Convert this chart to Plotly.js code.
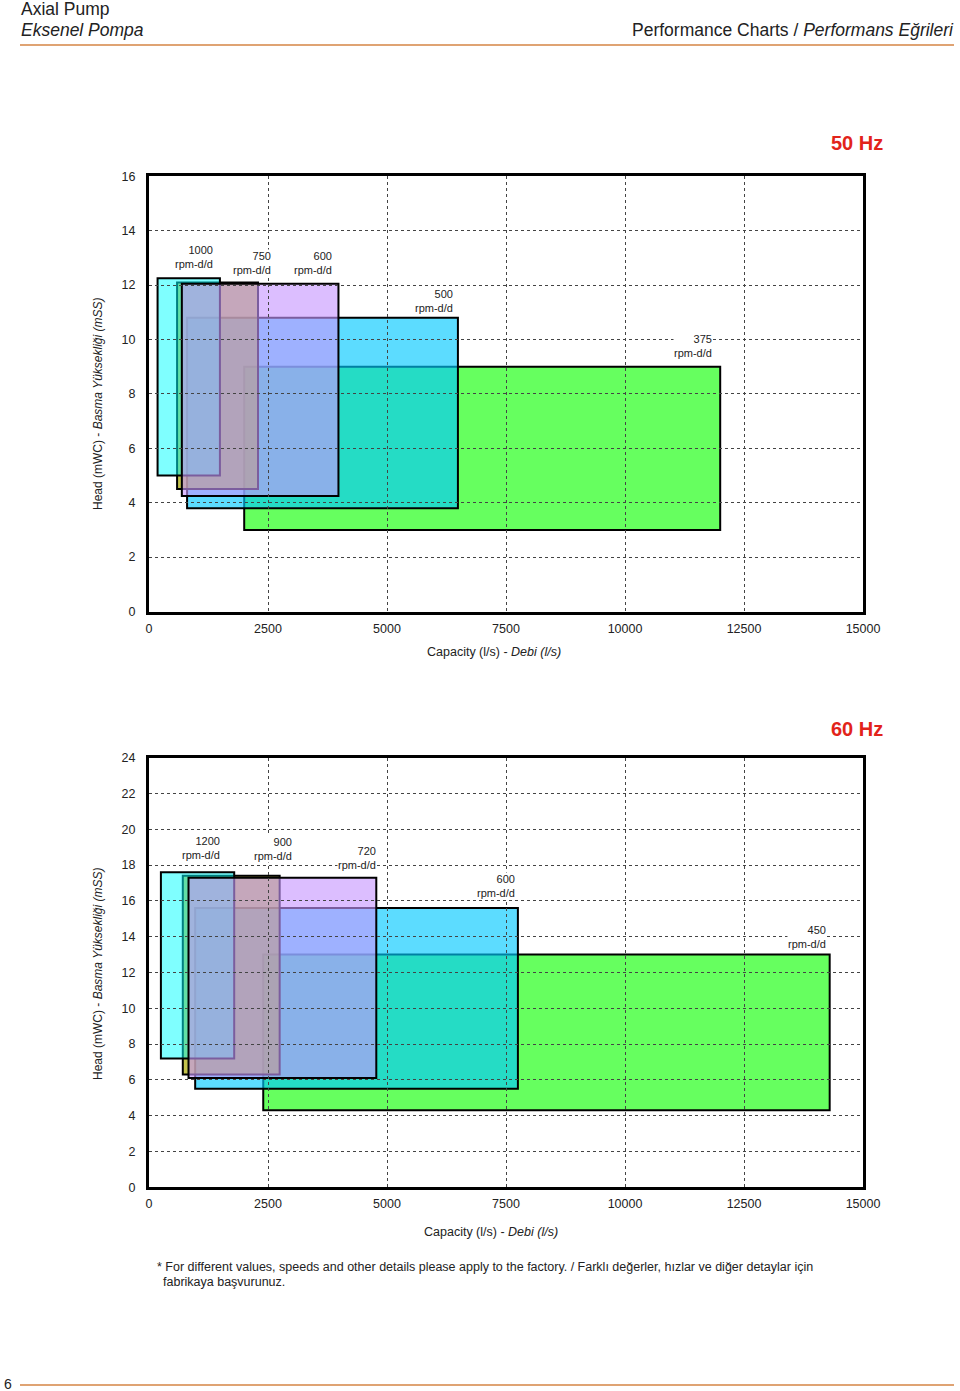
<!DOCTYPE html>
<html>
<head>
<meta charset="utf-8">
<script src="https://cdn.plot.ly/plotly-3.0.1.min.js"></script>
<style>
  html, body { margin: 0; padding: 0; background: #fff; }
  #chartDiv { width: 960px; height: 1391px; }
</style>
</head>
<body>
<div id="chartDiv"></div>
<script>
// 50 Hz operating windows (capacity l/s, head m)
const speeds50 = [1000, 750, 600, 500, 375];
const qMin50 = [180, 590, 690, 800, 2000];
const qMax50 = [1490, 2290, 3980, 6490, 12000];
const hMin50 = [5.0, 4.5, 4.25, 3.8, 3.0];
const hMax50 = [12.25, 12.1, 12.05, 10.8, 9.0];

// 60 Hz operating windows
const speeds60 = [1200, 900, 720, 600, 450];
const qMin60 = [250, 710, 830, 970, 2400];
const qMax60 = [1790, 2745, 4775, 7750, 14300];
const hMin60 = [7.2, 6.3, 6.1, 5.5, 4.3];
const hMax60 = [17.6, 17.4, 17.3, 15.6, 13.0];

const xTicks = [0, 2500, 5000, 7500, 10000, 12500, 15000];
const yTicks50 = [0, 2, 4, 6, 8, 10, 12, 14, 16];
const yTicks60 = [0, 2, 4, 6, 8, 10, 12, 14, 16, 18, 20, 22, 24];

// style: fill per window index, draw order, label nudges (px)
const fills = [
  "rgba(0,255,255,0.5)",
  "rgba(170,170,0,0.7)",
  "rgba(198,150,255,0.62)",
  "rgba(0,200,255,0.64)",
  "rgb(102,255,95)"
];
const drawOrder = [4, 3, 1, 0, 2];
const labelDx50 = [-6, 14, -5, -4, -7];
const labelDy50 = [7, 5, 7, 3, 7];
const labelDx60 = [-13, 13, 1, -2, -3];
const labelDy60 = [10, 13, 6, 8, 4];

const font = "Liberation Sans, Arial, sans-serif";
const W = 960, H = 1391;
const px = v => v / W;
const py = v => 1 - v / H;

function makeRects(qMin, qMax, hMin, hMax, xr, yr) {
  return drawOrder.map(i => ({
    type: "rect", xref: xr, yref: yr, layer: "below",
    x0: qMin[i], x1: qMax[i], y0: hMin[i], y1: hMax[i],
    fillcolor: fills[i],
    line: { color: "#000", width: 2 }
  }));
}

function makeLabels(speeds, qMax, hMax, dx, dy, xr, yr) {
  return speeds.map((s, i) => ({
    xref: xr, yref: yr, x: qMax[i], y: hMax[i],
    xanchor: "right", yanchor: "bottom", align: "right",
    xshift: dx[i], yshift: dy[i],
    text: s + "<br>rpm-d/d", showarrow: false,
    bgcolor: "#fff", borderpad: 0,
    font: { family: font, size: 11, color: "#222" }
  }));
}

function xAxis(anchor) {
  return {
    domain: [px(149), px(863)], anchor: anchor,
    range: [0, 15000], tickvals: xTicks, ticktext: xTicks.map(String),
    showgrid: true, gridcolor: "#444", griddash: "3px,3px", gridwidth: 1,
    zeroline: false, showline: true, mirror: true, linecolor: "#000", linewidth: 3,
    ticks: "outside", ticklen: 3, tickcolor: "rgba(0,0,0,0)",
    tickfont: { family: font, size: 12.5, color: "#222" }, fixedrange: true
  };
}

function yAxis(anchor, top, bottom, ticks) {
  return {
    domain: [py(bottom), py(top)], anchor: anchor,
    range: [0, ticks[ticks.length - 1]], tickvals: ticks, ticktext: ticks.map(String),
    showgrid: true, gridcolor: "#444", griddash: "3px,3px", gridwidth: 1,
    zeroline: false, showline: true, mirror: true, linecolor: "#000", linewidth: 3,
    ticks: "outside", ticklen: 8, tickcolor: "rgba(0,0,0,0)",
    tickfont: { family: font, size: 12.5, color: "#222" }, fixedrange: true
  };
}

function paperText(text, x, y, xanchor, size, extra) {
  return Object.assign({
    xref: "paper", yref: "paper", x: px(x), y: py(y),
    xanchor: xanchor, yanchor: "middle", showarrow: false, text: text,
    font: { family: font, size: size, color: "#222" }
  }, extra || {});
}

const yTitle = "Head (mWC) - <i>Basma Yüksekliği (mSS)</i>";
const xTitle = "Capacity (l/s) - <i>Debi (l/s)</i>";

const annotations = [
  paperText("Axial Pump", 19, 9, "left", 17.5),
  paperText("<i>Eksenel Pompa</i>", 19, 30, "left", 17.5),
  paperText("Performance Charts / <i>Performans Eğrileri</i>", 956, 30, "right", 17.5),
  paperText("<b>50 Hz</b>", 885, 143, "right", 20, { font: { family: font, size: 20, color: "#E2231A" } }),
  paperText("<b>60 Hz</b>", 885, 729, "right", 20, { font: { family: font, size: 20, color: "#E2231A" } }),
  paperText(yTitle, 98, 404, "center", 12, { textangle: -90 }),
  paperText(yTitle, 98, 974, "center", 12, { textangle: -90 }),
  paperText(xTitle, 494, 652, "center", 12.5),
  paperText(xTitle, 491, 1232, "center", 12.5),
  paperText("* For different values, speeds and other details please apply to the factory. / Farklı değerler, hızlar ve diğer detaylar için", 155, 1267, "left", 12.5),
  paperText("fabrikaya başvurunuz.", 161, 1282, "left", 12.5),
  paperText("6", 2, 1384, "left", 14)
].concat(
  makeLabels(speeds50, qMax50, hMax50, labelDx50, labelDy50, "x", "y"),
  makeLabels(speeds60, qMax60, hMax60, labelDx60, labelDy60, "x2", "y2")
);

const shapes = [
  { type: "line", xref: "paper", yref: "paper", x0: px(20), x1: px(954), y0: py(45), y1: py(45),
    line: { color: "#DFA373", width: 2 } },
  { type: "line", xref: "paper", yref: "paper", x0: px(20), x1: px(954), y0: py(1385), y1: py(1385),
    line: { color: "#DFA373", width: 2 } }
].concat(
  makeRects(qMin50, qMax50, hMin50, hMax50, "x", "y"),
  makeRects(qMin60, qMax60, hMin60, hMax60, "x2", "y2")
);

const layout = {
  width: W, height: H,
  margin: { l: 0, r: 0, t: 0, b: 0 },
  paper_bgcolor: "#fff", plot_bgcolor: "#fff",
  showlegend: false,
  xaxis: xAxis("y"),
  yaxis: yAxis("x", 176.3, 611.5, yTicks50),
  xaxis2: xAxis("y2"),
  yaxis2: yAxis("x2", 757.7, 1187.3, yTicks60),
  shapes: shapes,
  annotations: annotations
};

Plotly.newPlot("chartDiv", [], layout, { staticPlot: true, displayModeBar: false });
</script>
</body>
</html>
